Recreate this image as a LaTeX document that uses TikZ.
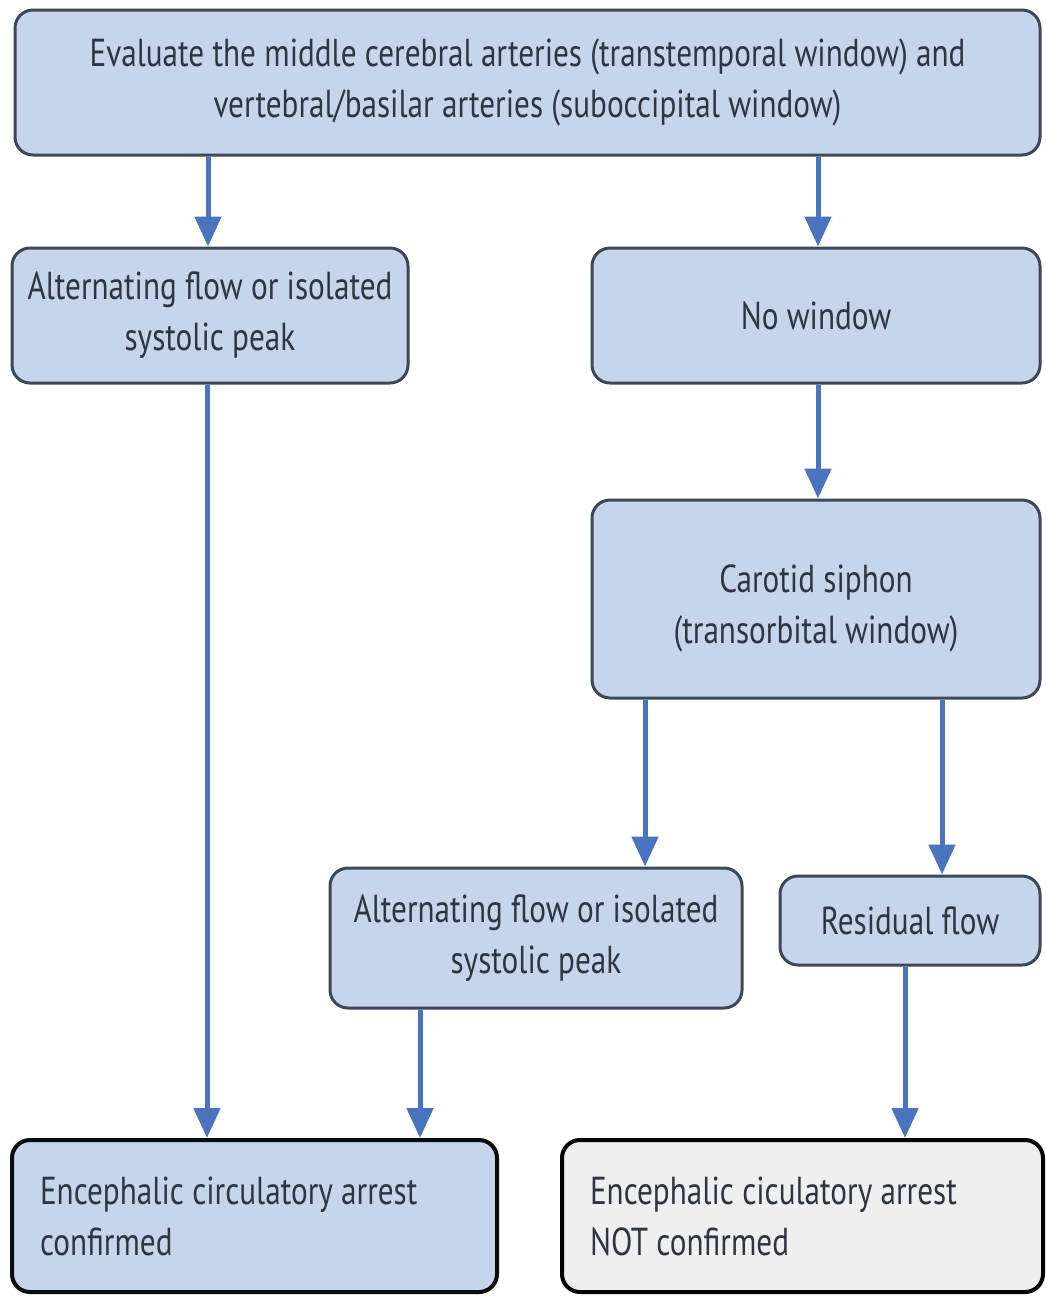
\documentclass[tikz,border=0pt]{standalone}
\usepackage{fontspec}
\setmainfont{PT Sans}[FakeStretch=0.8]
\usetikzlibrary{arrows.meta,calc}
\definecolor{boxfill}{HTML}{C6D5EC}
\definecolor{boxline}{HTML}{3B4856}
\definecolor{arrblue}{HTML}{4A74BE}
\definecolor{txt}{HTML}{2E3540}
\definecolor{grayfill}{HTML}{EFEFEF}
\begin{document}
\begin{tikzpicture}[x=1pt,y=-1pt,
  box/.style={draw=boxline, line width=3pt, fill=boxfill, rounded corners=18pt,
    text=txt, align=center, inner sep=0pt, font=\fontsize{39}{51}\selectfont},
  arr/.style={draw=arrblue, line width=5pt, -{Triangle[length=30pt,width=26pt]}}]
\useasboundingbox (0,0) rectangle (1046,1296);
\fill[white] (0,0) rectangle (1046,1296);
\node[box, minimum width=1025pt, minimum height=145pt] (top) at (527.5,82.5)
  {Evaluate the middle cerebral arteries (transtemporal window) and\\ vertebral/basilar arteries (suboccipital window)};
\node[box, minimum width=396pt, minimum height=135pt] (alt1) at (210,315.5)
  {Alternating flow or isolated\\ systolic peak};
\node[box, minimum width=448pt, minimum height=135pt] (nowin) at (816,315.5)
  {No window};
\node[box, minimum width=448pt, minimum height=198pt] (car) at (816,599)
  {\rule{0pt}{46pt}Carotid siphon\\ (transorbital window)};
\node[box, minimum width=412pt, minimum height=140pt] (alt2) at (536,938)
  {Alternating flow or isolated\\ systolic peak};
\node[box, minimum width=260pt, minimum height=89pt] (res) at (910,920.5)
  {Residual flow};
\node[box, draw=black!85!boxline, line width=4pt, minimum width=485pt, minimum height=152pt,
  text width=429pt, align=flush left] (conf) at (254.5,1216)
  {Encephalic circulatory arrest\\ confirmed};
\node[box, draw=black, fill=grayfill, line width=4pt, minimum width=481pt, minimum height=152pt,
  text width=425pt, align=flush left] (nconf) at (802.5,1216)
  {Encephalic ciculatory arrest\\ NOT confirmed};
\coordinate (xa) at (208,0);
\coordinate (xb) at (818,0);
\coordinate (xc) at (207,0);
\coordinate (xd) at (645,0);
\coordinate (xe) at (942,0);
\coordinate (xf) at (420,0);
\coordinate (xg) at (905,0);
\draw[arr] (top.south -| xa) -- (alt1.north -| xa);
\draw[arr] (top.south -| xb) -- (nowin.north -| xb);
\draw[arr] (nowin.south -| xb) -- (car.north -| xb);
\draw[arr] (alt1.south -| xc) -- (conf.north -| xc);
\draw[arr] (car.south -| xd) -- (alt2.north -| xd);
\draw[arr] (car.south -| xe) -- (res.north -| xe);
\draw[arr] (alt2.south -| xf) -- (conf.north -| xf);
\draw[arr] (res.south -| xg) -- (nconf.north -| xg);
\end{tikzpicture}
\end{document}
